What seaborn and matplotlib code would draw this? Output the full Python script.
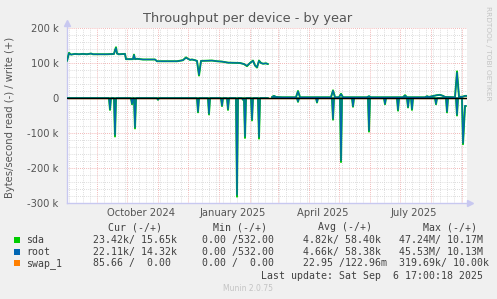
import numpy as np
import pandas as pd
import matplotlib
matplotlib.use("Agg")
import matplotlib.pyplot as plt
import seaborn as sns
from matplotlib.patches import Rectangle
from matplotlib.ticker import FuncFormatter

# ---------------- data (x = days since 2 Aug 2024, values in k bytes/s) ----------------
write_a_days = [0, 2, 4, 8, 12, 16, 20, 24, 26, 40, 47, 48, 49, 50, 52, 58, 59, 66, 67, 68, 70, 76, 88, 90,
                110, 116, 119, 121, 123, 125, 128, 130, 132, 134, 145, 150, 155, 161, 173, 177, 180, 183,
                186, 188, 190, 192, 194, 196, 199, 201]
root_write_a = [106, 128, 124, 126, 125, 126, 125, 127, 125, 125, 126, 136, 143, 127, 125, 126, 111, 111, 123,
                111, 112, 110, 110, 105, 105, 108, 115, 112, 109, 110, 108, 106, 66, 106, 107, 105, 104, 101,
                100, 97, 92, 100, 106, 93, 88, 106, 100, 98, 99, 97]
sda_write_a = [106, 129, 124, 126, 125, 126, 125, 127, 125, 125, 126, 137, 145, 127, 125, 126, 111, 111, 124,
               111, 112, 110, 110, 105, 105, 108, 116, 112, 109, 110, 108, 106, 64, 106, 107, 105, 104, 101,
               100, 97, 91, 100, 107, 93, 87, 107, 100, 98, 99, 97]

write_b_days = [205, 207, 209, 215, 229, 231, 233, 264, 266, 268, 272, 274, 276, 300, 302, 304, 336, 338, 340,
                358, 360, 362, 365, 370, 373, 376, 378, 388, 390, 392, 396, 398, 400]
root_write_b = [3, 6, 3, 2, 2, 19, 2, 2, 21, 2, 2, 11, 2, 2, 5, 2, 2, 7, 2, 2, 5, 3, 5, 8, 9, 6, 3, 2, 73, 3, 4, 6, 6]
sda_write_b = [3, 6, 3, 2, 2, 20, 2, 2, 22, 2, 2, 12, 2, 2, 5, 2, 2, 8, 2, 2, 5, 3, 5, 8, 9, 6, 3, 2, 76, 3, 4, 6, 6]

read_a_days = [0, 42, 43, 44, 47, 48, 49, 64, 65, 66, 67, 68, 69, 90, 91, 92, 130, 131, 132, 141, 142, 143,
               154, 155, 156, 160, 161, 162, 169, 170, 171, 175, 176, 177, 178, 179, 184, 185, 186, 191, 192,
               193, 201]
root_read_a = [0, 0, -32, 0, 0, -106, 0, 0, -17, 0, 0, -84, 0, 0, -5, 0, 0, -39, 0, 0, -45, 0,
               0, -22, 0, 0, -32, 0, 0, -277, 0, 0, -5, 0, -110, 0, 0, -62, 0, 0, -112,
               0, 0]
sda_read_a = [0, 0, -34, 0, 0, -110, 0, 0, -18, 0, 0, -87, 0, 0, -5, 0, 0, -41, 0, 0, -47, 0,
              0, -23, 0, 0, -34, 0, 0, -282, 0, 0, -5, 0, -114, 0, 0, -64, 0, 0, -116,
              0, 0]

read_b_days = [205, 230, 231, 232, 249, 250, 251, 265, 266, 267, 273, 274, 275, 285, 286, 287, 301, 302, 303,
               317, 318, 319, 330, 331, 332, 340, 341, 342, 344, 345, 346, 368, 369, 370, 379, 380, 381,
               389, 390, 391, 395, 396, 398, 399]
root_read_b = [0, 0, -10, 0, 0, -12, 0, 0, -60, 0, 0, -179, 0, 0, -24, 0, 0, -93, 0,
               0, -17, 0, 0, -34, 0, 0, -26, 0, 0, -32, 0, 0, -17, 0, 0, -39, 0,
               0, -48, 0, 0, -129, -22, -22]
sda_read_b = [0, 0, -11, 0, 0, -13, 0, 0, -62, 0, 0, -183, 0, 0, -25, 0, 0, -96, 0,
              0, -18, 0, 0, -36, 0, 0, -27, 0, 0, -34, 0, 0, -18, 0, 0, -41, 0,
              0, -50, 0, 0, -132, -23, -23]

swap_days = [0, 400]
swap_values = [0, 0]

month_days = [30, 60, 91, 121, 152, 183, 211, 242, 272, 303, 333, 364, 395]
label_days = [74, 166, 256, 347]
label_texts = ["October 2024", "January 2025", "April 2025", "July 2025"]

legend_names = ["sda", "root", "swap_1"]
legend_colors = ["#00CC00", "#0066B3", "#FF8000"]
col_headers = ["Cur (-/+)", "Min (-/+)", "Avg (-/+)", "Max (-/+)"]
cur_vals = ["23.42k/ 15.65k", "22.11k/ 14.32k", "85.66 /  0.00"]
min_vals = ["0.00 /532.00", "0.00 /532.00", "0.00 /  0.00"]
avg_vals = ["4.82k/ 58.40k", "4.66k/ 58.38k", "22.95 /122.96m"]
max_vals = ["47.24M/ 10.17M", "45.53M/ 10.13M", "319.69k/ 10.00k"]
last_update = "Last update: Sat Sep  6 17:00:18 2025"

# ---------------- figure ----------------
sns.set_style("white")
plt.rcParams["font.family"] = ["DejaVu Sans"]

W, H = 497, 299
fig = plt.figure(figsize=(W / 100, H / 100), dpi=100, facecolor="#F0F0F0")
L, R, T, B = 67, 467, 28, 203
ax = fig.add_axes([L / W, 1 - B / H, (R - L) / W, (B - T) / H])
ax.set_facecolor("white")


def fx(x):
    return x / W


def fy(y):
    return 1 - y / H


def draw(days, vals, color, z, alpha=1.0, lw=1.0):
    df = pd.DataFrame({"day": days, "v": np.array(vals, dtype=float) * 1000})
    sns.lineplot(data=df, x="day", y="v", ax=ax, color=color, lw=lw, estimator=None,
                 sort=False, zorder=z, legend=False, alpha=alpha)


draw(swap_days, swap_values, "#FF8000", 2)
for d, v in [(write_a_days, sda_write_a), (write_b_days, sda_write_b),
             (read_a_days, sda_read_a), (read_b_days, sda_read_b)]:
    draw(d, v, "#00CC00", 3, lw=1.4)
for d, v in [(write_a_days, root_write_a), (write_b_days, root_write_b),
             (read_a_days, root_read_a), (read_b_days, root_read_b)]:
    draw(d, v, "#0066B3", 3.5, alpha=0.95, lw=1.0)
ax.axhline(0, color="black", lw=1.0, zorder=4)

ax.set_xlim(0, 400)
ax.set_ylim(-300000, 200000)
ax.set_xlabel("")
ax.set_ylabel("")

ax.set_yticks(np.arange(-300000, 200001, 100000))
ax.set_yticks(np.arange(-300000, 200001, 20000), minor=True)
ax.yaxis.set_major_formatter(FuncFormatter(lambda v, p: "0" if v == 0 else f"{int(round(v / 1000))} k"))
ax.set_xticks(month_days)
ax.set_xticks(list(range(2, 400, 7)), minor=True)
ax.set_xticklabels([""] * len(month_days))

ax.grid(which="minor", color="#D2D2D2", ls=(0, (1, 1.5)), lw=0.6, zorder=0)
ax.grid(which="major", color="#EFA0A0", ls=(0, (1, 1.5)), lw=0.6, zorder=0.5)
ax.set_axisbelow(True)

ax.tick_params(axis="y", which="both", length=0, pad=6, labelsize=7.2, labelcolor="#555555")
ax.tick_params(axis="x", which="major", length=3, direction="inout", color="#E88080", width=0.8)
ax.tick_params(axis="x", which="minor", length=2, direction="inout", color="#BBBBBB", width=0.6)

for s in ["top", "right"]:
    ax.spines[s].set_visible(False)
for s in ["left", "bottom"]:
    ax.spines[s].set_color("#C8C8F0")
    ax.spines[s].set_linewidth(1.0)
ax.spines["left"].set_bounds(-300000, 212000)
ax.plot([0], [1.03], marker="^", ms=4, color="#C8C8F0", transform=ax.transAxes, clip_on=False)
ax.plot([1.0075], [0], marker=">", ms=4, color="#C8C8F0", transform=ax.transAxes, clip_on=False)

for d, t in zip(label_days, label_texts):
    ax.text(d, -(212.5 - B) / (B - T), t, transform=ax.get_xaxis_transform(), ha="center", va="center",
            fontsize=7.2, color="#555555")

fig.text(fx(247.5), fy(18.5), "Throughput per device - by year", ha="center", va="center",
         fontsize=9.3, color="#555555")
fig.text(fx(10), fy(117), "Bytes/second read (-) / write (+)", rotation=90, ha="center", va="center",
         fontsize=7.2, color="#555555")
fig.text(fx(488), fy(53), "RRDTOOL / TOBI OETIKER", rotation=270, ha="center", va="center",
         fontsize=5.3, color="#C4C4C4")

mono = "DejaVu Sans Mono"
tc = "#404040"
fs = 7.1
hdr_x = [107.7, 212.7, 318.3, 422.7]
for x, h in zip(hdr_x, col_headers):
    fig.text(fx(x), fy(227), h, family=mono, fontsize=fs, color=tc, ha="left", va="center")
row_y = [240, 251.7, 263.3]
for i in range(3):
    y = row_y[i]
    fig.patches.append(Rectangle((fx(14), fy(y + 3)), 6 / W, 6 / H, transform=fig.transFigure,
                                 facecolor=legend_colors[i], edgecolor="none"))
    fig.text(fx(26.5), fy(y), legend_names[i], family=mono, fontsize=fs, color=tc, ha="left", va="center")
    fig.text(fx(93.3), fy(y), cur_vals[i], family=mono, fontsize=fs, color=tc, ha="left", va="center")
    fig.text(fx(201.7), fy(y), min_vals[i], family=mono, fontsize=fs, color=tc, ha="left", va="center")
    fig.text(fx(303.3), fy(y), avg_vals[i], family=mono, fontsize=fs, color=tc, ha="left", va="center")
    fig.text(fx(399.3), fy(y), max_vals[i], family=mono, fontsize=fs, color=tc, ha="left", va="center")
fig.text(fx(483), fy(275.7), last_update, family=mono, fontsize=fs, color=tc, ha="right", va="center")
fig.text(fx(248), fy(288.5), "Munin 2.0.75", fontsize=5.5, color="#C4C4C4", ha="center", va="center")

fig.savefig("out.png", dpi=100, facecolor=fig.get_facecolor())
